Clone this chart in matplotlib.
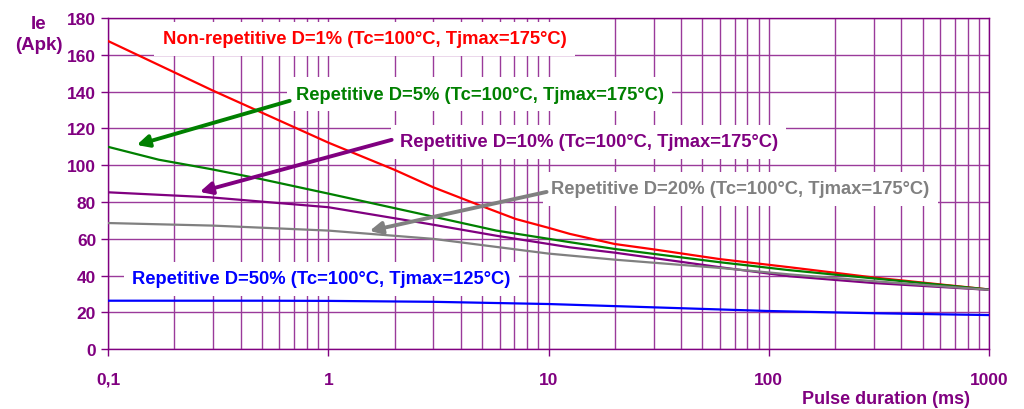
import matplotlib
matplotlib.use('Agg')
import matplotlib.pyplot as plt
from matplotlib.ticker import FixedLocator, FixedFormatter, NullFormatter, LogLocator

plt.rcParams['font.family'] = ['Liberation Sans', 'DejaVu Sans']
plt.rcParams['font.weight'] = 'bold'

PURPLE = '#800080'

# pulse duration (ms) / Ie (Apk)
t_red = [0.1, 0.3, 0.69, 1.0, 2.0, 3.0, 5.0, 7.1, 10, 12.5, 20, 30, 60, 124, 300, 1000]
ie_red = [167.5, 140.5, 121, 112.3, 97.5, 88, 77.7, 70.8, 66, 62.7, 57.2, 54.3, 49, 44.6, 39, 32.5]

t_green = [0.1, 0.17, 0.29, 0.49, 1.0, 2.86, 5.8, 12.5, 20, 60, 124, 300, 1000]
ie_green = [110, 103, 98, 92.6, 84.6, 72.6, 64.5, 58.2, 54.5, 47.3, 43, 38.5, 32.5]

t_purple = [0.1, 0.29, 1.0, 2.86, 5.8, 12.5, 20, 60, 124, 300, 1000]
ie_purple = [85.3, 82.6, 77.2, 68.1, 61.7, 55.4, 52.5, 44.6, 39.7, 36, 32.3]

t_gray = [0.1, 0.3, 1, 3, 10, 20, 60, 124, 300, 1000]
ie_gray = [68.6, 67.2, 64.5, 60, 52, 48.7, 44.2, 40.7, 37, 32.3]

t_blue = [0.1, 0.5, 1, 3, 10, 30, 100, 300, 1000]
ie_blue = [26.4, 26.4, 26.3, 25.8, 24.6, 22.8, 20.8, 19.6, 18.6]

labels = ['Non-repetitive D=1% (Tc=100°C, Tjmax=175°C)',
          'Repetitive D=5% (Tc=100°C, Tjmax=175°C)',
          'Repetitive D=10% (Tc=100°C, Tjmax=175°C)',
          'Repetitive D=20% (Tc=100°C, Tjmax=175°C)',
          'Repetitive D=50% (Tc=100°C, Tjmax=125°C)']
colors = ['#FF0000', '#008000', '#800080', '#808080', '#0000FF']

xticks = [0.1, 1, 10, 100, 1000]
xticklabels = ['0,1', '1', '10', '100', '1000']
yticks = list(range(0, 181, 20))

fig = plt.figure(figsize=(10.24, 4.10), dpi=100)
ax = fig.add_axes([0.1055, 0.1456, 0.8603, 0.8081])

series = [(t_red, ie_red), (t_green, ie_green), (t_purple, ie_purple),
          (t_gray, ie_gray), (t_blue, ie_blue)]
for (t, ie), c in zip(series, colors):
    ax.plot(t, ie, color=c, lw=1.6, zorder=3)

ax.set_xscale('log')
ax.set_xlim(0.1, 1000)
ax.set_ylim(0, 180)
ax.xaxis.set_major_locator(FixedLocator(xticks))
ax.xaxis.set_major_formatter(FixedFormatter(xticklabels))
ax.xaxis.set_minor_locator(LogLocator(base=10, subs=range(2, 10)))
ax.xaxis.set_minor_formatter(NullFormatter())
ax.set_yticks(yticks)

ax.grid(which='major', axis='both', color='#9a3a9a', lw=1.0, zorder=0)
ax.grid(which='minor', axis='x', color='#9a3a9a', lw=1.0, zorder=0)
ax.set_axisbelow(True)

ax.tick_params(axis='both', which='major', direction='out', length=5, width=1,
               color=PURPLE, labelcolor=PURPLE, labelsize=12.5)
ax.tick_params(axis='x', which='major', pad=11)
ax.tick_params(axis='x', which='minor', length=0)
for s in ax.spines.values():
    s.set_color(PURPLE)
    s.set_linewidth(1)

# curve labels on white boxes
lab_pos = [(0.177, 168.6), (0.71, 138.7), (2.11, 112.7), (10.3, 87.1), (0.129, 38.2)]
for (x, y), txt, c in zip(lab_pos, labels, colors):
    ax.text(x, y, txt, color=c, fontsize=13.2, fontweight='bold', ha='left', va='center',
            zorder=4, bbox=dict(boxstyle='square,pad=0.45', fc='white', ec='none'))

# arrows from labels to curves
arrows = [((0.668, 135), (0.135, 111), '#008000'),
          ((1.94, 113.8), (0.261, 85.5), '#800080'),
          ((9.8, 85.5), (1.54, 64.3), '#808080')]
for start, tip, c in arrows:
    ax.annotate('', xy=tip, xytext=start, zorder=5,
                arrowprops=dict(arrowstyle='-|>', color=c, lw=2.8, mutation_scale=18,
                                shrinkA=0, shrinkB=0))

fig.text(0.038, 0.915, 'Ie\n(Apk)', color=PURPLE, fontsize=13.5, fontweight='bold',
         ha='center', va='center', linespacing=1.35)
fig.text(0.947, 0.025, 'Pulse duration (ms)', color=PURPLE, fontsize=13,
         fontweight='bold', ha='right', va='center')

fig.savefig('out.png', dpi=100)
